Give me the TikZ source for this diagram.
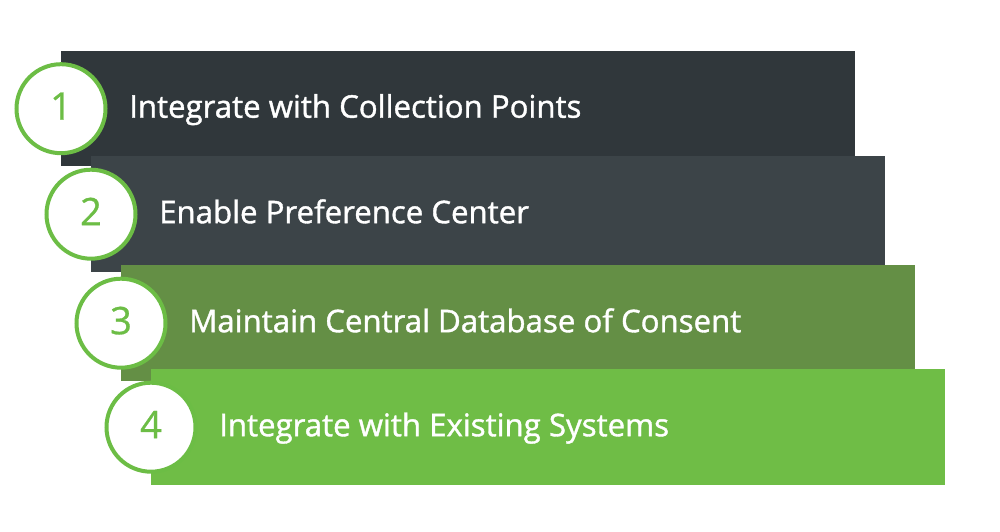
\documentclass[tikz,border=0pt]{standalone}
\usepackage{fontspec}
\setmainfont{Open Sans}
\newfontfamily\stepfont[FakeBold=1.2]{Open Sans}
\newfontfamily\numfont[FakeBold=0.8]{Open Sans}
\usetikzlibrary{calc}
\definecolor{stepone}{HTML}{30373B}
\definecolor{steptwo}{HTML}{3C4448}
\definecolor{stepthree}{HTML}{648F45}
\definecolor{stepfour}{HTML}{6FBD46}
\definecolor{ringgreen}{HTML}{6CBD45}
\tikzset{
  stepbar/.style={anchor=north west, inner sep=0pt, minimum width=794pt},
  numring/.style={circle, draw=ringgreen, line width=4pt, fill=white,
    minimum size=89pt, inner sep=0pt},
  numtext/.style={text=ringgreen, font=\numfont\fontsize{38}{38}\selectfont, anchor=base, inner sep=0pt},
  steptext/.style={text=white, font=\stepfont\fontsize{31.2}{31}\selectfont, anchor=base west, inner sep=0pt}
}
\begin{document}
\begin{tikzpicture}[x=1pt,y=-1pt]
  \useasboundingbox (0,0) rectangle (1000,532);
  \foreach \n/\top/\ht/\col/\txt in {
    1/51/115/stepone/Integrate with Collection Points,
    2/156/116/steptwo/Enable Preference Center,
    3/265/116/stepthree/Maintain Central Database of Consent,
    4/369/116/stepfour/Integrate with Existing Systems}
{
  \pgfmathsetmacro\lx{61+30*(\n-1)}
  \node[stepbar, fill=\col, minimum height=\ht pt] (bar\n) at (\lx,\top) {};
  \node[numring] (ring\n) at (bar\n.west) {};
  \node[numtext] (num\n) at ($(ring\n.center)+(0,11)$) {\n};
  \node[steptext] (label\n) at ($(bar\n.west)+(68,9)$) {\txt};
}
\end{tikzpicture}
\end{document}
